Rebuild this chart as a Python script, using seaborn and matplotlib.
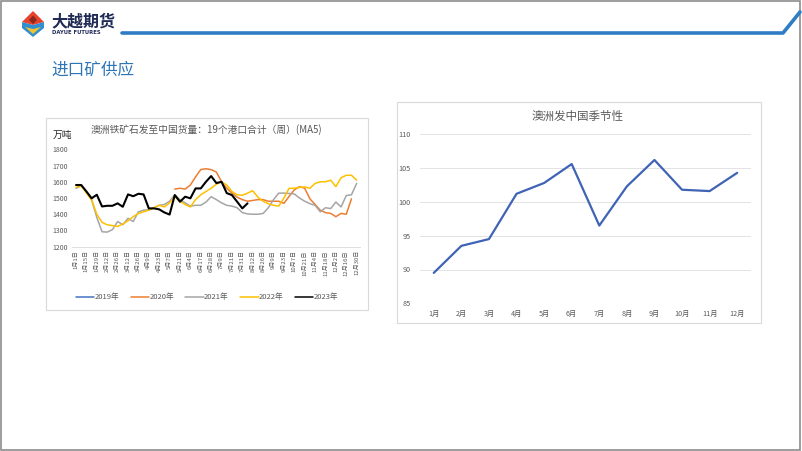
import numpy as np
import pandas as pd
import matplotlib
matplotlib.use("Agg")
import matplotlib.pyplot as plt
from matplotlib.patches import Rectangle, Polygon
from matplotlib.lines import Line2D
import seaborn as sns

sns.set_style("white")
plt.rcParams['font.family'] = ['Noto Sans CJK SC', 'DejaVu Sans']

W, H = 802, 451
nan = np.nan

# ---- left chart: weekly shipments (MA5), 万吨 ----
week_labels = ['1月1日', '1月15日', '1月29日', '2月12日', '2月26日', '3月12日', '3月26日',
               '4月9日', '4月23日', '5月7日', '5月21日', '6月4日', '6月17日', '6月28日',
               '7月9日', '7月21日', '7月31日', '8月12日', '8月26日', '9月9日', '9月23日',
               '10月7日', '10月21日', '11月4日', '11月18日', '12月2日', '12月16日', '12月30日']
years = ['2019年', '2020年', '2021年', '2022年', '2023年']
year_colors = ['#4472C4', '#ED7D31', '#A5A5A5', '#FFC000', '#000000']

s2019 = [nan] * 55
s2020 = [nan] * 19 + [1555, 1560, 1555, 1580, 1630, 1675, 1680, 1675, 1660, 1600,
                      1560, 1530, 1505, 1490, 1480, 1485, 1490, 1490, 1480, 1480,
                      1480, 1467, 1510, 1550, 1570, 1560, 1495, 1460, 1425, 1410,
                      1405, 1385, 1405, 1400, 1495, nan]
s2021 = [1560, 1575, 1540, 1490, 1380, 1292, 1290, 1305, 1355, 1335,
         1375, 1355, 1415, 1425, 1428, 1440, 1455, 1460, 1480, 1520,
         1490, 1470, 1450, 1455, 1455, 1475, 1508, 1490, 1470, 1455,
         1450, 1440, 1410, 1402, 1400, 1400, 1405, 1440, 1490, 1530,
         1530, 1528, 1525, 1500, 1480, 1465, 1455, 1415, 1440, 1435,
         1475, 1445, 1515, 1520, 1590]
s2022 = [1565, 1575, 1530, 1487, 1400, 1350, 1335, 1330, 1325, 1340,
         1360, 1385, 1405, 1415, 1425, 1440, 1455, 1445, 1470, 1510,
         1480, 1460, 1445, 1490, 1520, 1540, 1560, 1585, 1600, 1580,
         1540, 1520, 1517, 1530, 1545, 1505, 1480, 1465, 1455, 1450,
         1500, 1560, 1560, 1565, 1568, 1560, 1590, 1600, 1600, 1610,
         1570, 1625, 1640, 1640, 1610]
s2023 = [1580, 1580, 1540, 1498, 1520, 1448, 1452, 1452, 1467, 1446,
         1522, 1511, 1526, 1522, 1436, 1436, 1430, 1411, 1398, 1518,
         1477, 1508, 1498, 1559, 1559, 1600, 1635, 1592, 1600, 1530,
         1518, 1477, 1436, 1467] + [nan] * 21

# ---- right chart: seasonality ----
months = ['1月', '2月', '3月', '4月', '5月', '6月', '7月', '8月', '9月', '10月', '11月', '12月']
season = [89.5, 93.5, 94.5, 101.2, 102.8, 105.6, 96.5, 102.3, 106.2, 101.8, 101.6, 104.3]


def px_axes(fig, x0, y0, x1, y1):
    return fig.add_axes([x0 / W, 1 - y1 / H, (x1 - x0) / W, (y1 - y0) / H])


def fx(x):
    return x / W


def fy(y):
    return 1 - y / H


fig = plt.figure(figsize=(W / 100, H / 100), dpi=100)
fig.patch.set_facecolor('white')

# slide frame and header
fig.patches.append(Rectangle((0.001, 0.002), 0.997, 0.996, transform=fig.transFigure,
                             fill=False, edgecolor='#8C8C8C', lw=1.2))
fig.lines.append(Line2D([fx(122), fx(783), fx(800)], [fy(33), fy(33), fy(12)],
                        transform=fig.transFigure, color='#2E7CC4', lw=2.6))
# logo mark
fig.patches.append(Polygon([(fx(33), fy(11)), (fx(44), fy(22)), (fx(33), fy(25)), (fx(22), fy(22))],
                           closed=True, transform=fig.transFigure, facecolor='#E8412C', edgecolor='none'))
fig.patches.append(Polygon([(fx(22), fy(22)), (fx(33), fy(25)), (fx(44), fy(22)), (fx(44), fy(28)),
                            (fx(33), fy(37)), (fx(22), fy(28))],
                           closed=True, transform=fig.transFigure, facecolor='#2F8FD0', edgecolor='none'))
fig.patches.append(Polygon([(fx(29), fy(20)), (fx(33), fy(15.5)), (fx(37), fy(20)), (fx(33), fy(24))],
                           closed=True, transform=fig.transFigure, facecolor='#8A2A1E', edgecolor='none'))
fig.patches.append(Polygon([(fx(25), fy(27)), (fx(33), fy(29)), (fx(41), fy(27)), (fx(33), fy(34))],
                           closed=True, transform=fig.transFigure, facecolor='#F2C230', edgecolor='none'))
fig.text(fx(51), fy(21), '大越期货', fontsize=11.5, fontweight='bold', color='#1F2A55',
         ha='left', va='center')
fig.text(fx(52), fy(32.5), 'DAYUE FUTURES', fontsize=3.8, fontweight='bold', color='#1F2A55',
         ha='left', va='center', family=['DejaVu Sans'])
fig.text(fx(51), fy(70), '进口矿供应', fontsize=12, color='#2E75B6', ha='left', va='center')

# chart boxes
fig.patches.append(Rectangle((fx(46), fy(310)), fx(368) - fx(46), fy(118) - fy(310),
                             transform=fig.transFigure, fill=False, edgecolor='#D9D9D9', lw=0.8))
fig.patches.append(Rectangle((fx(397), fy(323)), fx(761) - fx(397), fy(102) - fy(323),
                             transform=fig.transFigure, fill=False, edgecolor='#D9D9D9', lw=0.8))

# ---- left chart ----
ax1 = px_axes(fig, 72.4, 149.3, 360.3, 246.7)
weeks = np.arange(55)
df = pd.DataFrame({'周': np.tile(weeks, 5),
                   '年份': np.repeat(years, 55),
                   '货量': np.concatenate([s2019, s2020, s2021, s2022, s2023])})
for yr, col in zip(years, year_colors):
    sub = df[df['年份'] == yr]
    if sub['货量'].notna().any():
        sns.lineplot(data=sub, x='周', y='货量', ax=ax1, color=col,
                     lw=1.5 if yr == '2023年' else 1.1, legend=False)
ax1.set_xlim(-0.7, 54.7)
ax1.set_ylim(1200, 1800)
ax1.set_yticks(range(1200, 1801, 100))
ax1.set_xticks(np.arange(0, 55, 2))
ax1.set_xticklabels(week_labels, rotation=90, fontsize=4.3, color='#595959')
ax1.tick_params(axis='y', labelsize=5, labelcolor='#595959', length=0, pad=3)
ax1.tick_params(axis='x', length=0, pad=2.5)
ax1.set_xlabel('')
ax1.set_ylabel('')
for s in ['top', 'right', 'left']:
    ax1.spines[s].set_visible(False)
ax1.spines['bottom'].set_color('#D9D9D9')
ax1.spines['bottom'].set_linewidth(0.6)
ax1.set_facecolor('none')

fig.text(fx(206), fy(130), '澳洲铁矿石发至中国货量：19个港口合计（周）(MA5)', fontsize=7.0,
         color='#595959', ha='center', va='center')
fig.text(fx(52.5), fy(134.5), '万吨', fontsize=7, color='#262626', ha='left', va='center')

handles = [Line2D([], [], color=c, lw=1.1) for c in year_colors]
fig.legend(handles, years, ncol=5, loc='center', bbox_to_anchor=(fx(207), fy(297.5)),
           frameon=False, fontsize=5.5, handlelength=2.4, columnspacing=1.5,
           handletextpad=0.05, labelcolor='#595959')

# ---- right chart ----
ax2 = px_axes(fig, 420, 134.3, 751, 303.3)
df2 = pd.DataFrame({'月': np.arange(12), '值': season})
sns.lineplot(data=df2, x='月', y='值', ax=ax2, color='#3F63B5', lw=1.6)
ax2.set_xlim(-0.5, 11.5)
ax2.set_ylim(85, 110)
ax2.set_yticks(range(85, 111, 5))
ax2.set_xticks(np.arange(12))
ax2.set_xticklabels(months)
ax2.grid(axis='y', color='#E3E3E3', lw=0.7)
ax2.tick_params(axis='both', labelsize=5.2, labelcolor='#595959', length=0)
ax2.tick_params(axis='x', pad=5)
ax2.tick_params(axis='y', pad=7)
ax2.set_xlabel('')
ax2.set_ylabel('')
for s in ['top', 'right', 'left', 'bottom']:
    ax2.spines[s].set_visible(False)
ax2.set_facecolor('none')
fig.text(fx(578), fy(116), '澳洲发中国季节性', fontsize=8.3, color='#595959', ha='center', va='center')

fig.savefig('out.png', dpi=100)
